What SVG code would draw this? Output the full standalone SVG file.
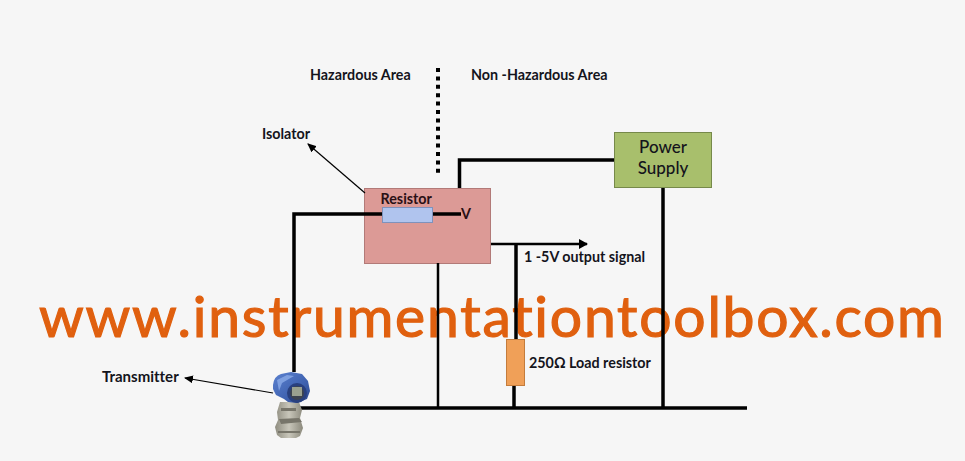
<svg xmlns="http://www.w3.org/2000/svg" width="965" height="461" viewBox="0 0 965 461">
<style>
text{font-family:Lato,"Liberation Sans",sans-serif;fill:#14141c;font-variant-ligatures:none}
.b{font-weight:700;font-size:14.300px}
.w{fill:none;stroke:#000;stroke-width:3.500}
.t{fill:none;stroke:#000;stroke-width:2.500}
.a{fill:none;stroke:#000;stroke-width:1.200}
</style>
<defs>
<marker id="ah" markerWidth="10" markerHeight="8" refX="8" refY="4" orient="auto" markerUnits="userSpaceOnUse"><path d="M0 0L9 4L0 8z" fill="#000"/></marker>
<marker id="ao" markerWidth="10" markerHeight="10" refX="8" refY="5" orient="auto" markerUnits="userSpaceOnUse"><path d="M0 0L9 5L0 10z" fill="#000"/></marker>
<linearGradient id="blue" x1="0" y1="0" x2="1" y2="1"><stop offset="0" stop-color="#5c82d0"/><stop offset="0.600" stop-color="#3f62b0"/><stop offset="1" stop-color="#2c4688"/></linearGradient>
<linearGradient id="steel" x1="0" y1="0" x2="1" y2="0"><stop offset="0" stop-color="#8f8d80"/><stop offset="0.500" stop-color="#c8c6ba"/><stop offset="1" stop-color="#8b897c"/></linearGradient>
</defs>
<rect width="965" height="461" fill="#f6f6f6"/>
<g id="watermark"><text x="39" y="337" textLength="905" lengthAdjust="spacing" style="font-size:57px;fill:#e0600f;stroke:#e0600f;stroke-width:1.200">www.instrumentationtoolbox.com</text></g>
<g id="isolator"><rect x="364.500" y="188.500" width="126" height="75" fill="#dc9a96" stroke="#b27a78"/></g>
<g id="connectors">
<path class="w" d="M294 372V214H383"/>
<path class="w" d="M433 214H461"/>
<path class="w" d="M459.500 188V160H615"/>
<path class="w" d="M663 188V408"/>
<path class="t" d="M491 244H587" marker-end="url(#ao)"/>
<path class="w" d="M516 244V340"/>
<path class="w" d="M514 384V408"/>
<path class="t" d="M438 263V408"/>
<path class="w" d="M300 408H747"/>
<path d="M438 68V174" fill="none" stroke="#000" stroke-width="4" stroke-dasharray="4 4.400"/>
<path class="a" d="M365 193L308 144" marker-end="url(#ah)"/>
<path class="a" d="M273 393L185 378" marker-end="url(#ah)"/>
</g>
<g id="resistor"><rect x="382.500" y="207.500" width="50" height="15" fill="#b0c4ee" stroke="#7f92bc"/><text class="b" x="380.500" y="204" style="fill:#2a1015">Resistor</text></g>
<g id="v-label"><text x="461" y="219" class="b" style="fill:#2a1015">V</text></g>
<g id="power-supply"><rect x="614.500" y="132.500" width="97" height="55" fill="#a8bf6c" stroke="#76894a"/><text x="663" y="153" text-anchor="middle" style="font-size:17px;font-weight:500">Power</text><text x="663" y="174" text-anchor="middle" style="font-size:17px;font-weight:500">Supply</text></g>
<g id="load-resistor"><rect x="506.500" y="339.500" width="18" height="46" fill="#f0a058" stroke="#c47c3c"/><text class="b" x="529" y="368">250Ω Load resistor</text></g>
<g id="labels">
<text class="b" x="310" y="80">Hazardous Area</text>
<text class="b" x="471" y="80">Non -Hazardous Area</text>
<text class="b" x="262" y="139">Isolator</text>
<text class="b" x="524" y="262">1 -5V output signal</text>
<text class="b" x="102" y="382" style="font-size:15px">Transmitter</text>
</g>
<g id="transmitter">
<path d="M280 402h19l3 8-2 8 3 10-3 8-4 2h-15l-4-3-2-8 3-7-1-8z" fill="url(#steel)"/>
<path d="M279 419l20-1 3 4-21 2zM281 408h15v3h-15zM278 431h22v2h-22z" fill="#77756a"/>
<path d="M273 385q1-9 8-11l10-2 11 2 6 7 2 10-3 8-10 4-9-1-4-3-8-4-3-6z" fill="url(#blue)"/>
<path d="M277 380l10-5 7 1-12 7-3 8z" fill="#7fa0e0"/>
<circle cx="297" cy="393" r="10" fill="#29407e"/>
<circle cx="297" cy="393" r="7" fill="#3d4450"/>
<path d="M292 387h10v9h-10z" fill="#9aa18f"/>
</g>
</svg>
